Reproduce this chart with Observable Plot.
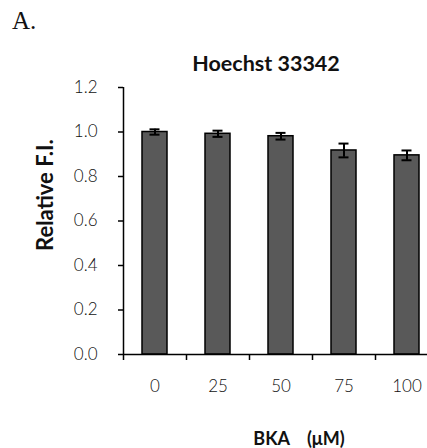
<!DOCTYPE html>
<html>
<head>
<meta charset="utf-8">
<script src="https://cdn.jsdelivr.net/npm/d3@7"></script>
<script src="https://cdn.jsdelivr.net/npm/@observablehq/plot@0.6"></script>
<style>
  html, body { margin: 0; padding: 0; background: white; overflow: hidden; }
  #wrap { position: relative; width: 427px; height: 448px; overflow: hidden; }
  #panel { position: absolute; left: 12px; top: 8px; font-family: "Liberation Serif", serif; font-size: 25px; color: #111; line-height: 1; }
  #title { position: absolute; left: 266px; top: 51px; transform: translateX(-50%); font-family: Lato, "Open Sans", sans-serif; font-weight: 700; font-size: 21.5px; color: #111; line-height: 24px; white-space: nowrap; }
  #chart { position: absolute; left: 0; top: 75px; width: 440px; }
  #chart svg { max-width: none !important; }
</style>
</head>
<body>
<div id="wrap">
  <div id="panel">A.</div>
  <div id="title">Hoechst 33342</div>
  <div id="chart"></div>
</div>
<script>
const concentrations = ["0", "25", "50", "75", "100"];
const relativeFI = [1.000, 0.992, 0.981, 0.917, 0.895];
const errorFI = [0.012, 0.014, 0.015, 0.031, 0.022];
const yTicks = [0, 0.2, 0.4, 0.6, 0.8, 1.0, 1.2];
const xLabel = "BKA\u00a0\u00a0\u00a0\u00a0(μM)";
const yLabel = "Relative F.I.";

const data = concentrations.map((c, i) => ({c, v: relativeFI[i], e: errorFI[i]}));
const labelFont = "Lato, 'Open Sans', sans-serif";
const tickFont = "Lato, sans-serif";

const chart = Plot.plot({
  width: 440,
  height: 373,
  marginLeft: 123,
  marginRight: 2,
  marginTop: 12,
  marginBottom: 94,
  style: {fontFamily: "Lato, 'DejaVu Sans', sans-serif", fontSize: "16px", color: "#222", background: "white", overflow: "visible", maxWidth: "none"},
  x: {domain: concentrations, paddingInner: 0.6, paddingOuter: 0.3, axis: null},
  y: {domain: [0, 1.2], axis: null},
  marks: [
    Plot.barY(data, {x: "c", y: "v", fill: "#595959", stroke: "black", strokeWidth: 1.5}),
    Plot.ruleX(data, {x: "c", y1: d => d.v - d.e, y2: d => d.v + d.e, stroke: "black", strokeWidth: 2}),
    Plot.tickY(data, {x: "c", y: d => d.v - d.e, insetLeft: 7.5, insetRight: 7.5, stroke: "black", strokeWidth: 2}),
    Plot.tickY(data, {x: "c", y: d => d.v + d.e, insetLeft: 7.5, insetRight: 7.5, stroke: "black", strokeWidth: 2}),
    Plot.ruleY([0], {stroke: "black", strokeWidth: 1.5}),
    Plot.ruleX([concentrations[0]], {dx: -31.5, stroke: "black", strokeWidth: 1.5}),
    Plot.axisY(yTicks, {tickSize: 5, tickPadding: 21, tickFormat: d3.format(".1f"), label: null, stroke: "black", strokeWidth: 1.5, fill: "#111", fontFamily: tickFont, fontSize: 17, fontWeight: 300}),
    Plot.axisX({tickSize: 0, tickPadding: 25, label: null, fill: "#111", fontFamily: tickFont, fontSize: 17, fontWeight: 300}),
    Plot.axisX(concentrations, {tickSize: 6, dx: -31.5, tickFormat: () => "", label: null, stroke: "black", strokeWidth: 1.5}),
    Plot.text([xLabel], {frameAnchor: "bottom", dy: 90, dx: 18, fontWeight: "bold", fontFamily: labelFont, fontSize: 18, fill: "#111"}),
    Plot.text([yLabel], {frameAnchor: "left", rotate: -90, dx: -78, dy: 30, fontWeight: "bold", fontFamily: labelFont, fontSize: 22, fill: "#111", letterSpacing: "0.6px"})
  ]
});
document.getElementById("chart").appendChild(chart);
</script>
</body>
</html>
